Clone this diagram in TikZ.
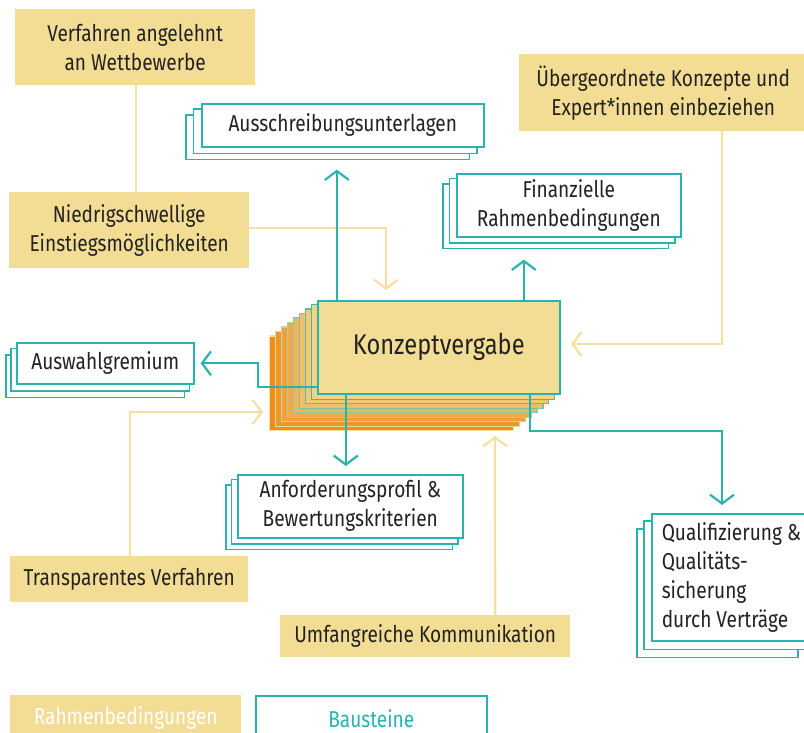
\documentclass[tikz,border=0pt]{standalone}
\usepackage{fontspec}
\setmainfont{Fira Sans}[FakeStretch=0.83]
\usetikzlibrary{arrows.meta,backgrounds,calc}

\definecolor{tealc}{HTML}{2AB3AE}
\definecolor{sand}{HTML}{F3DD95}
\definecolor{sandline}{HTML}{F6E0A0}
\definecolor{orangec}{HTML}{EF8C1A}
\definecolor{inkc}{HTML}{222222}

% two copies behind a document node
\newcommand{\docstack}[3]{%
\begin{scope}[on background layer]
\foreach \k in {2,1}
  \draw[docback] ([shift={(\k*#2,\k*#3)}]#1.north west) rectangle ([shift={(\k*#2,\k*#3)}]#1.south east);
\end{scope}}

\begin{document}
\begin{tikzpicture}[x=1pt,y=-1pt]

\tikzset{frame/.style={fill=sand,draw=none,text=inkc,align=center,inner sep=0pt,anchor=north west,font=\fontsize{23}{29}\selectfont},
doc/.style={fill=white,draw=tealc,line width=1.6pt,text=inkc,align=center,inner sep=0pt,anchor=north west,font=\fontsize{23}{29}\selectfont},
docback/.style={fill=white,draw=tealc,line width=1.6pt},
links/.style={-{Straight Barb[length=9pt,width=24pt]},draw=tealc,line width=2.2pt},
feeds/.style={-{Straight Barb[length=9pt,width=24pt]},draw=sandline,line width=2.2pt},
plain/.style={draw=sandline,line width=2.2pt}}

\useasboundingbox (0,0) rectangle (804,733);

% Rahmenbedingungen
\node (verf) [frame,minimum width=240pt,minimum height=76pt] at (15,9) {Verfahren angelehnt\\an Wettbewerbe};
\node (niedrig) [frame,minimum width=240pt,minimum height=76pt] at (9,192) {Niedrigschwellige\\Einstiegsmöglichkeiten};
\node (ueber) [frame,minimum width=288pt,minimum height=77pt] at (519,54) {Übergeordnete Konzepte und\\Expert*innen einbeziehen};
\node (transp) [frame,minimum width=238pt,minimum height=46pt] at (10,556) {Transparentes Verfahren};
\node (umfang) [frame,minimum width=290pt,minimum height=42pt] at (280,615) {Umfangreiche Kommunikation};

% Konzeptvergabe
\node (konz) [frame,draw=tealc,line width=1.6pt,minimum width=242pt,minimum height=93pt,font=\fontsize{28.5}{34}\selectfont] at (317,300) {Konzeptvergabe};
\begin{scope}[on background layer]
\foreach \i in {8,...,1}{
  \pgfmathsetmacro{\p}{100*\i/8}
  \colorlet{layfill}{orangec!\p!sand}
  \colorlet{laydraw}{sandline!\p!tealc}
  \draw[fill=layfill,draw=laydraw,line width=1.2pt] ([shift={(-5.9*\i,4.5*\i)}]konz.north west) rectangle ([shift={(-5.9*\i,4.5*\i)}]konz.south east);
}
\end{scope}

% Bausteine
\node (aus) [doc,minimum width=282pt,minimum height=43pt] at (201,103) {Ausschreibungsunterlagen};
\node (fin) [doc,minimum width=224pt,minimum height=63pt] at (456,173) {Finanzielle\\Rahmenbedingungen};
\node (ausw) [doc,minimum width=177pt,minimum height=41pt] at (16,342) {Auswahlgremium};
\node (anf) [doc,minimum width=225pt,minimum height=63pt] at (237,474) {Anforderungsprofil \&\\Bewertungskriterien};
\node (qual) [doc,align=left,inner xsep=10pt,minimum width=154pt,minimum height=127pt] at (651,513) {Qualifizierung \&\\Qualitäts-\\sicherung\\durch Verträge};
\docstack{aus}{-7.5}{6}
\docstack{fin}{-6.5}{5.5}
\docstack{ausw}{-5}{6.5}
\docstack{anf}{-5.5}{5.5}
\docstack{qual}{-7}{8}

% Legende
\node (leg1) [frame,minimum width=231pt,minimum height=45pt,text=white] at (10,695) {Rahmenbedingungen};
\node (leg2) [doc,minimum width=231pt,minimum height=45pt,text=tealc] at (255,695) {Bausteine};

% free ends
\coordinate (nIn) at (386,290);
\coordinate (uIn) at (571,344);
\coordinate (tIn) at (263,412);
\coordinate (kIn) at (495,436);

% Rahmenbedingungen to Konzeptvergabe
\draw[plain] ([xshift=1pt]verf.south) -- ([xshift=7pt]niedrig.north);
\draw[feeds] ([yshift=2pt]niedrig.east) -| (nIn);
\draw[feeds] ([xshift=59pt]ueber.south) |- (uIn);
\draw[feeds] ([xshift=1pt]transp.north) |- (tIn);
\draw[feeds] ([xshift=70pt]umfang.north) -- (kIn);

% Konzeptvergabe to Bausteine
\draw[links,shorten >=22pt] ([xshift=-102pt]konz.north) -- ([xshift=-6pt]aus.south);
\draw[links,shorten >=22pt] ([xshift=85pt]konz.north) -- ([xshift=-45pt]fin.south);
\draw[links,shorten >=6pt] ([yshift=-40pt]konz.west) -- ++(-59,0) |- (ausw.east);
\draw[links,shorten >=8pt] ([xshift=-93pt]konz.south) -- ([xshift=-4.5pt]anf.north);
\draw[links,shorten >=8pt] ([xshift=91pt]konz.south) -- ++(0,36) -| (qual.north -| 722,0);

\end{tikzpicture}
\end{document}
